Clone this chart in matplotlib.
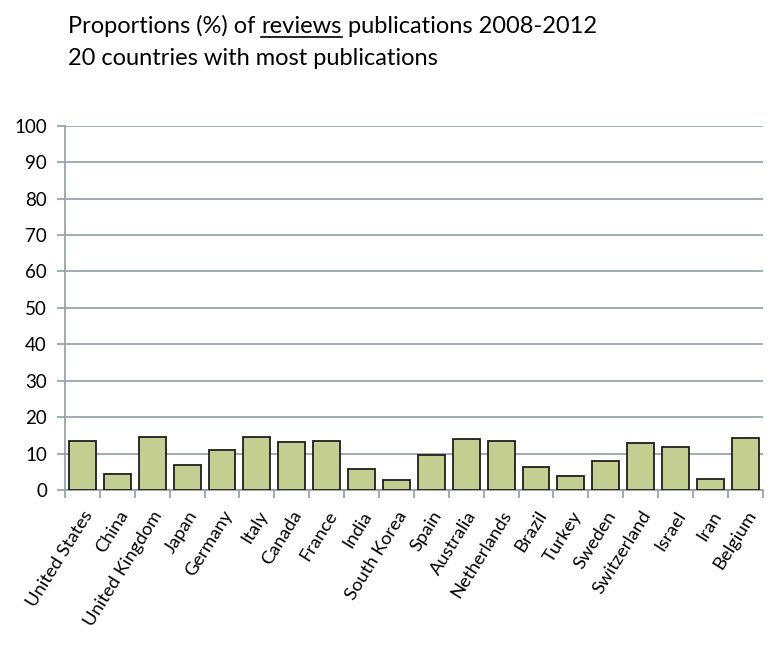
import numpy as np
import matplotlib
matplotlib.use("Agg")
import matplotlib.pyplot as plt

countries = ["United States", "China", "United Kingdom", "Japan", "Germany",
             "Italy", "Canada", "France", "India", "South Korea", "Spain",
             "Australia", "Netherlands", "Brazil", "Turkey", "Sweden",
             "Switzerland", "Israel", "Iran", "Belgium"]
proportions = [13.4, 4.3, 14.5, 6.8, 10.9, 14.6, 13.2, 13.5, 5.7, 2.8,
               9.5, 14.1, 13.5, 6.2, 3.7, 8.0, 13.0, 11.8, 2.9, 14.4]
y_ticks = list(range(0, 101, 10))

plt.rcParams["font.family"] = ["Lato", "DejaVu Sans"]

GRID = "#8fa0a4"
fig = plt.figure(figsize=(7.8, 6.52), dpi=100)
ax = fig.add_axes([0.0833, 0.2485, 0.8947, 0.5587])

x = np.arange(len(countries))
ax.bar(x, proportions, width=0.77, color="#c4ce91", edgecolor="#1e1e1e",
       linewidth=1.3, zorder=3)

ax.set_xlim(-0.5, len(countries) - 0.5)
ax.set_ylim(0, 100)
ax.set_yticks(y_ticks)
ax.set_yticklabels([str(v) for v in y_ticks], fontsize=13.5)
ax.yaxis.grid(True, color=GRID, linewidth=1.2, zorder=0)
ax.tick_params(axis="y", length=6, color=GRID, width=1.2, pad=7)

ax.set_xticks(x)
ax.set_xticklabels(countries, rotation=58, ha="right", rotation_mode="anchor",
                   fontsize=13.3)
ax.set_xticks(np.arange(-0.5, len(countries)), minor=True)
ax.tick_params(axis="x", which="major", length=0, pad=13)
ax.tick_params(axis="x", which="minor", length=6, color=GRID, width=1.2)

for s in ["top", "right"]:
    ax.spines[s].set_visible(False)
for s in ["left", "bottom"]:
    ax.spines[s].set_color(GRID)
    ax.spines[s].set_linewidth(1.2)

# Titre en deux lignes, "reviews" souligne
fig.canvas.draw()
renderer = fig.canvas.get_renderer()
parts = ["Proportions (%) of ", "reviews", " publications 2008-2012"]
xpos = 68
ypos = 652 - 33
for i, p in enumerate(parts):
    t = fig.text(xpos / 780, ypos / 652, p, fontsize=17, va="baseline",
                 ha="left")
    bb = t.get_window_extent(renderer)
    if i == 1:
        fig.add_artist(plt.Line2D([bb.x0 / 780, bb.x1 / 780],
                                  [(ypos - 4) / 652, (ypos - 4) / 652],
                                  color="black", linewidth=1.2))
    xpos = bb.x1
fig.text(68 / 780, (652 - 65) / 652, "20 countries with most publications",
         fontsize=17, va="baseline", ha="left")

fig.savefig("out.png", dpi=100)
